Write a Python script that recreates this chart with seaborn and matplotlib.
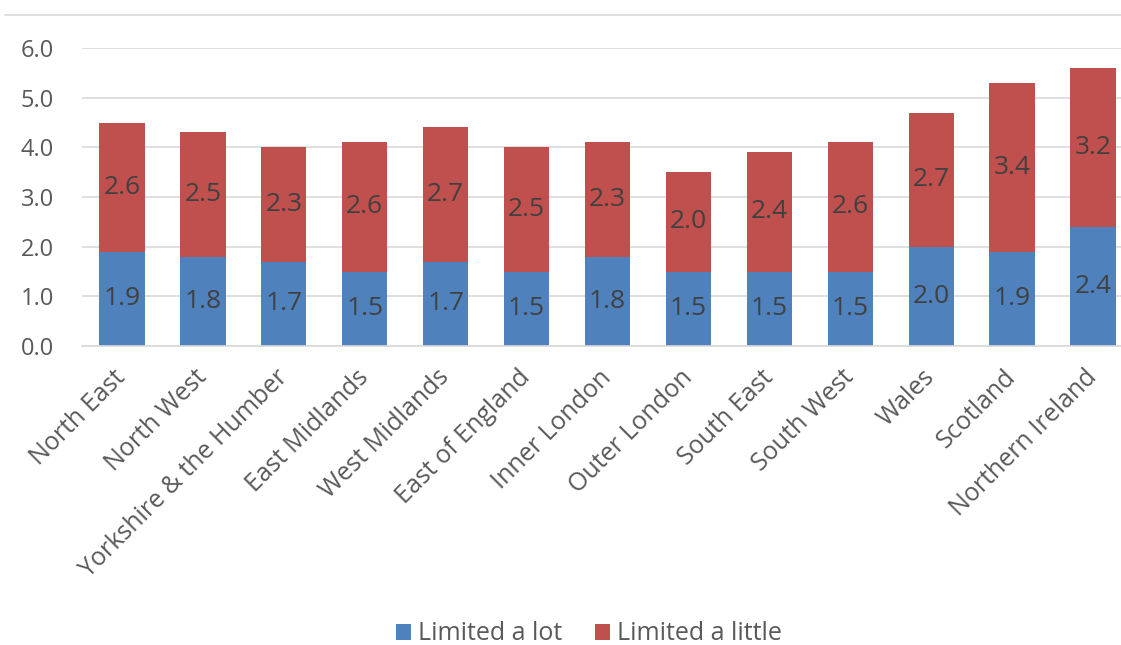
import matplotlib
matplotlib.use("Agg")
import matplotlib.pyplot as plt
from matplotlib.lines import Line2D
from matplotlib.patches import Patch
import seaborn as sns
import pandas as pd

regions = [
    "North East", "North West", "Yorkshire & the Humber", "East Midlands",
    "West Midlands", "East of England", "Inner London", "Outer London",
    "South East", "South West", "Wales", "Scotland", "Northern Ireland",
]
limited_a_lot = [1.9, 1.8, 1.7, 1.5, 1.7, 1.5, 1.8, 1.5, 1.5, 1.5, 2.0, 1.9, 2.4]
limited_a_little = [2.6, 2.5, 2.3, 2.6, 2.7, 2.5, 2.3, 2.0, 2.4, 2.6, 2.7, 3.4, 3.2]
y_ticks = [0.0, 1.0, 2.0, 3.0, 4.0, 5.0, 6.0]

BLUE = "#4F81BD"
RED = "#C0504D"
GRID = "#D9D9D9"
TICK_TXT = "#595959"
LABEL_TXT = "#404040"

df = pd.DataFrame({
    "region": regions,
    "lot": limited_a_lot,
    "little": limited_a_little,
})
df["total"] = df["lot"] + df["little"]

sns.set_theme(style="white")
plt.rcParams["font.family"] = ["Open Sans", "DejaVu Sans"]

fig = plt.figure(figsize=(11.21, 6.45), dpi=100)
W, H = 1121, 645
left_px, right_px = 81.5, 1121
top_px, bottom_px = 48, 346
ax = fig.add_axes([left_px / W, 1 - bottom_px / H,
                   (right_px - left_px) / W, (bottom_px - top_px) / H])

# stacked bars: full-height red, then blue base drawn over it
sns.barplot(data=df, x="region", y="total", color=RED, saturation=1,
            width=0.56, ax=ax, linewidth=0)
sns.barplot(data=df, x="region", y="lot", color=BLUE, saturation=1,
            width=0.56, ax=ax, linewidth=0)

ax.set_xlim(-0.5, 12.346)
ax.set_ylim(0, 6)
ax.set_yticks(y_ticks)
ax.set_yticklabels([f"{v:.1f}" for v in y_ticks], fontsize=17, color=TICK_TXT)
ax.yaxis.grid(True, color=GRID, linewidth=1.2)
ax.set_axisbelow(True)
for s in ["top", "right", "left"]:
    ax.spines[s].set_visible(False)
ax.spines["bottom"].set_color(GRID)
ax.spines["bottom"].set_linewidth(1.2)
ax.tick_params(axis="both", length=0)
ax.tick_params(axis="y", pad=20)
ax.set_xlabel("")
ax.set_ylabel("")

ax.set_xticks(range(len(regions)))
ax.set_xticklabels(regions, rotation=45, ha="right", va="center",
                   rotation_mode="anchor", fontsize=18, color=TICK_TXT)
ax.tick_params(axis="x", pad=20)

# value labels centred in each segment
for i, (a, b) in enumerate(zip(limited_a_lot, limited_a_little)):
    ax.text(i, a / 2, f"{a:.1f}", ha="center", va="center",
            fontsize=19, color=LABEL_TXT)
    ax.text(i, a + b / 2, f"{b:.1f}", ha="center", va="center",
            fontsize=19, color=LABEL_TXT)

handles = [Patch(facecolor=BLUE, edgecolor="none", label="Limited a lot"),
           Patch(facecolor=RED, edgecolor="none", label="Limited a little")]
fig.legend(handles=handles, loc="center", bbox_to_anchor=(589 / W, 1 - 634 / H),
           ncol=2, frameon=False, fontsize=18, handlelength=0.6,
           handleheight=0.6, handletextpad=0.3, columnspacing=1.3,
           labelcolor=TICK_TXT)

# chart frame top edge
fig.add_artist(Line2D([5 / W, 1], [1 - 15 / H, 1 - 15 / H],
                      transform=fig.transFigure, color=GRID, linewidth=1.2))

fig.savefig("out.png", dpi=100)
